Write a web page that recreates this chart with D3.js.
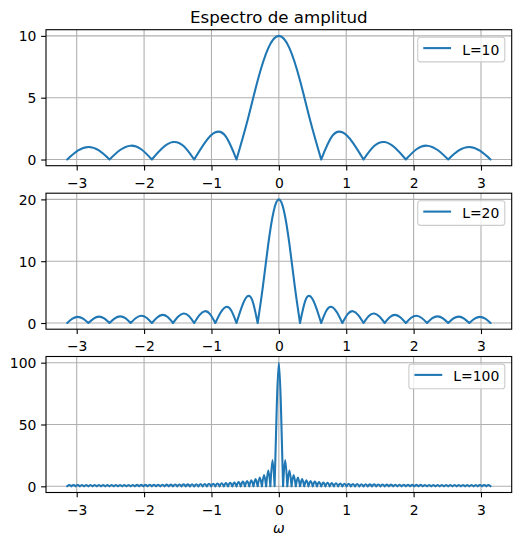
<!DOCTYPE html>
<html>
<head>
<meta charset="utf-8">
<script src="https://d3js.org/d3.v7.min.js"></script>
<style>
  body { margin: 0; background: #fff; }
  text { font-family: "DejaVu Sans", sans-serif; fill: #000; }
</style>
</head>
<body>
<div id="chart"></div>
<script>

// amplitude, for omega = i*pi/(n-1), i = 0..n-1
// (the spectrum is symmetric, negative omega is mirrored)
var amp10 = [10, 9.01, 6.39, 3.03, 0,
             1.85, 2.20, 1.35, 0,
             1.09, 1.41, 0.93, 0,
             0.83, 1.12, 0.77, 0,
             0.73, 1.01, 0.71, 0];

var amp20 = [20, 18.01, 12.75, 6.02, 0,
             3.63, 4.28, 2.61, 0,
             2.04, 2.61, 1.69, 0,
             1.45, 1.91, 1.27, 0,
             1.14, 1.54, 1.04, 0,
             0.96, 1.32, 0.90, 0,
             0.85, 1.17, 0.81, 0,
             0.78, 1.08, 0.75, 0,
             0.74, 1.03, 0.72, 0,
             0.71, 1.00, 0.71, 0];

var amp100 = [100, 63.66, 0, 21.22, 0, 12.75, 0, 9.11, 0, 7.10, 0, 5.82, 0, 4.93, 0, 4.28,
              0, 3.79, 0, 3.40, 0, 3.09, 0, 2.83, 0, 2.61, 0, 2.43, 0, 2.27, 0, 2.14,
              0, 2.02, 0, 1.91, 0, 1.82, 0, 1.74, 0, 1.67, 0, 1.60, 0, 1.54, 0, 1.49,
              0, 1.44, 0, 1.39, 0, 1.35, 0, 1.32, 0, 1.28, 0, 1.25, 0, 1.22, 0, 1.20,
              0, 1.17, 0, 1.15, 0, 1.13, 0, 1.11, 0, 1.10, 0, 1.08, 0, 1.07, 0, 1.06,
              0, 1.05, 0, 1.04, 0, 1.03, 0, 1.02, 0, 1.02, 0, 1.01, 0, 1.01, 0, 1.00,
              0, 1.00, 0, 1.00, 0];

var seriesLabels = ["L=10", "L=20", "L=100"];
var yTicks10 = [0, 5, 10];
var yTicks20 = [0, 10, 20];
var yTicks100 = [0, 50, 100];
var xTicks = [-3, -2, -1, 0, 1, 2, 3];
var titleText = "Espectro de amplitud";
var xLabelText = "ω";

var panels = [
  { amp: amp10, label: seriesLabels[0], ticks: yTicks10, top: 29.7 },
  { amp: amp20, label: seriesLabels[1], ticks: yTicks20, top: 193.2 },
  { amp: amp100, label: seriesLabels[2], ticks: yTicks100, top: 356.5 }
];

var W = 521, H = 545;
var left = 46, right = 511.7, ph = 136;
var blue = "#1f77b4";

var svg = d3.select("#chart").append("svg")
    .attr("width", W)
    .attr("height", H);

// shared x scale, matplotlib style 5% margins
var xExt = Math.PI * 1.1;
var x = d3.scaleLinear().domain([-xExt, xExt]).range([left, right]);

panels.forEach(function(p, pi) {
  var n = p.amp.length;
  var pts = [];
  for (var i = -(n - 1); i <= n - 1; i++) {
    pts.push({ w: i * Math.PI / (n - 1), a: p.amp[Math.abs(i)] });
  }
  var ymax = d3.max(p.amp);
  var pad = ymax * 0.05;
  var y = d3.scaleLinear().domain([-pad, ymax + pad]).range([p.top + ph, p.top]);

  var g = svg.append("g");

  // grid
  g.append("g").selectAll("line").data(xTicks).enter().append("line")
      .attr("x1", function(d) { return x(d); })
      .attr("x2", function(d) { return x(d); })
      .attr("y1", p.top).attr("y2", p.top + ph)
      .attr("stroke", "#b0b0b0").attr("stroke-width", 1.1);
  g.append("g").selectAll("line").data(p.ticks).enter().append("line")
      .attr("x1", left).attr("x2", right)
      .attr("y1", function(d) { return y(d); })
      .attr("y2", function(d) { return y(d); })
      .attr("stroke", "#b0b0b0").attr("stroke-width", 1.1);

  // split the curve into arches between the zeros
  var arches = [], cur = [];
  pts.forEach(function(d, i) {
    cur.push(d);
    if (d.a === 0 && cur.length > 1) {
      arches.push(cur);
      cur = [d];
    }
  });
  if (cur.length > 1) arches.push(cur);

  var line = d3.line()
      .x(function(d) { return x(d.w); })
      .y(function(d) { return y(d.a); })
      .curve(d3.curveNatural);

  g.append("path")
      .attr("d", arches.map(function(a) { return line(a); }).join(""))
      .attr("fill", "none")
      .attr("stroke", blue)
      .attr("stroke-width", 2.08)
      .attr("stroke-linejoin", "round")
      .attr("stroke-linecap", "round");

  // axes
  var xa = g.append("g")
      .attr("transform", "translate(0," + (p.top + ph) + ")")
      .call(d3.axisBottom(x).tickValues(xTicks).tickFormat(d3.format("d"))
        .tickSize(4.86).tickSizeOuter(0));
  xa.select(".domain").remove();
  xa.selectAll("line").attr("stroke-width", 1.1);
  xa.selectAll("text").attr("y", 22).attr("dy", null)
      .style("font-size", "13.9px").style("font-family", "DejaVu Sans");

  var ya = g.append("g")
      .attr("transform", "translate(" + left + ",0)")
      .call(d3.axisLeft(y).tickValues(p.ticks).tickFormat(d3.format("d"))
        .tickSize(4.86).tickSizeOuter(0));
  ya.select(".domain").remove();
  ya.selectAll("line").attr("stroke-width", 1.1);
  ya.selectAll("text").attr("x", -9.7).attr("dy", "0.36em")
      .style("font-size", "13.9px").style("font-family", "DejaVu Sans");

  g.append("rect")
      .attr("x", left).attr("y", p.top)
      .attr("width", right - left).attr("height", ph)
      .attr("fill", "none").attr("stroke", "#000").attr("stroke-width", 1.1);

  // legend
  var lg = g.append("g");
  var box = lg.append("rect")
      .attr("rx", 2.8).attr("ry", 2.8)
      .attr("fill", "#fff").attr("fill-opacity", 0.8)
      .attr("stroke", "#cccccc").attr("stroke-width", 1.1);
  var lt = lg.append("text")
      .style("font-size", "13.9px")
      .text(p.label);
  var tw = lt.node().getComputedTextLength();
  var bw = 5.56 + 27.8 + 11.1 + tw + 5.56;
  var bh = 24.6;
  var bx = right - 6.9 - bw, by = p.top + 7.6;
  box.attr("x", bx).attr("y", by).attr("width", bw).attr("height", bh);
  lg.append("line")
      .attr("x1", bx + 5.56).attr("x2", bx + 5.56 + 27.8)
      .attr("y1", by + 10.8).attr("y2", by + 10.8)
      .attr("stroke", blue).attr("stroke-width", 2.08);
  lt.attr("x", bx + 5.56 + 27.8 + 11.1).attr("y", by + 17.2);
});

svg.append("text")
    .attr("x", (left + right) / 2).attr("y", 22.5)
    .attr("text-anchor", "middle")
    .style("font-size", "16.67px")
    .text(titleText);

svg.append("text")
    .attr("x", (left + right) / 2).attr("y", 533)
    .attr("text-anchor", "middle")
    .style("font-size", "13.9px").style("font-style", "italic")
    .text(xLabelText);

</script>
</body>
</html>
